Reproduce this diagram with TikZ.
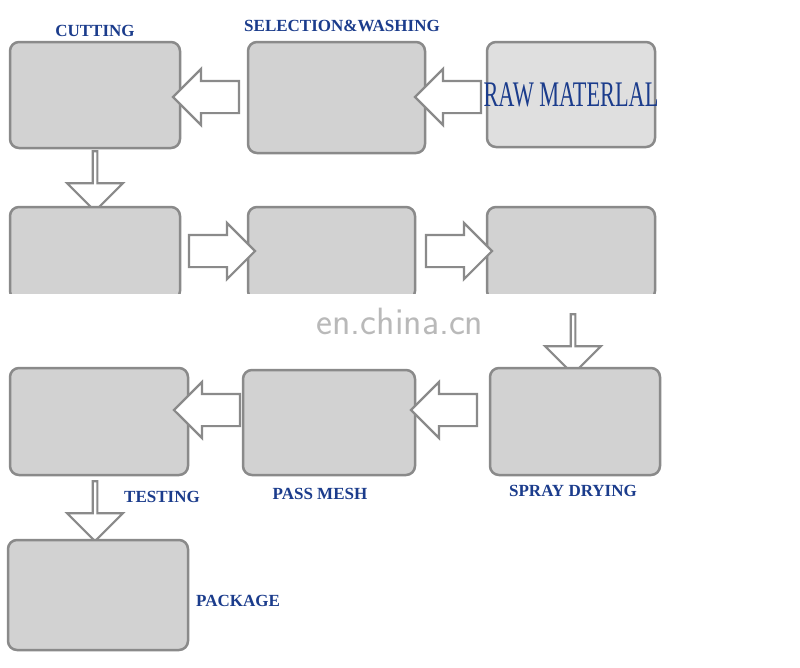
\documentclass[tikz,border=0pt]{standalone}
\usepackage{fontspec}
\setmainfont{Liberation Serif}
\usetikzlibrary{shapes.arrows}
\definecolor{lab}{HTML}{1B3C8C}
\definecolor{frame}{HTML}{8A8A8A}
\begin{document}
\begin{tikzpicture}[x=1pt,y=-1pt,
  photo/.style={draw=frame,line width=2.5pt,rounded corners=9pt,fill=gray!35},
  lbl/.style={text=lab,font=\bfseries\fontsize{17}{17}\selectfont,inner sep=0pt},
  harrow/.style={shape=single arrow,draw=frame,fill=white,line width=2.2pt,minimum height=66pt,minimum width=56pt,single arrow head extend=12pt,single arrow head indent=0pt,inner xsep=0pt,inner ysep=15pt},
  varrow/.style={harrow,shape border rotate=270,minimum height=60pt}]
\useasboundingbox (0,0) rectangle (800,667);
\fill[white] (0,0) rectangle (800,667);
% row 1
\draw[photo] (10,42) rectangle (180,148); \node (cut) at (95,95) {};
\draw[photo] (248,42) rectangle (425,153); \node (sel) at (336,97) {};
\draw[photo,fill=gray!25] (487,42) rectangle (655,147);
\node (raw) at (571,95) {\textcolor{lab}{\fontsize{36}{36}\selectfont\scalebox{0.62}[1]{RAW MATERLAL}}};
\node[lbl] (lcut) at (95,31) {CUTTING};
\node[lbl] (lsel) at (342,26) {SELECTION\&WASHING};
\node[harrow,shape border rotate=180] (a1) at (456,97) {};
\node[harrow,shape border rotate=180] (a2) at (214,97) {};
\node[varrow] (a3) at (95,180) {};
% row 2
\draw[photo] (10,207) rectangle (180,300); \node (r21) at (95,253) {};
\draw[photo] (248,207) rectangle (415,300); \node (r22) at (331,253) {};
\draw[photo] (487,207) rectangle (655,300); \node (r23) at (571,253) {};
\fill[white] (0,294) rectangle (800,318);
\node[harrow] (a4) at (214,251) {};
\node[harrow] (a5) at (451,251) {};
\node[text=gray!55,font=\sffamily\fontsize{38}{38}\selectfont] (wm) at (400,321) {en.china.cn};
\node[varrow] (a6) at (573,343) {};
% row 3
\draw[photo] (10,368) rectangle (188,475); \node (test) at (99,421) {};
\draw[photo] (243,370) rectangle (415,475); \node (mesh) at (329,422) {};
\draw[photo] (490,368) rectangle (660,475); \node (spray) at (575,421) {};
\node[harrow,shape border rotate=180] (a7) at (452,410) {};
\node[harrow,shape border rotate=180] (a8) at (215,410) {};
\node[lbl] (ltest) at (162,497) {TESTING};
\node[lbl] (lmesh) at (320,494) {PASS MESH};
\node[lbl] (lspray) at (573,491) {SPRAY DRYING};
\node[varrow] (a9) at (95,510) {};
% row 4
\draw[photo] (8,540) rectangle (188,650); \node (pack) at (98,595) {};
\node[lbl,anchor=west] (lpack) at (196,601) {PACKAGE};
\end{tikzpicture}
\end{document}
